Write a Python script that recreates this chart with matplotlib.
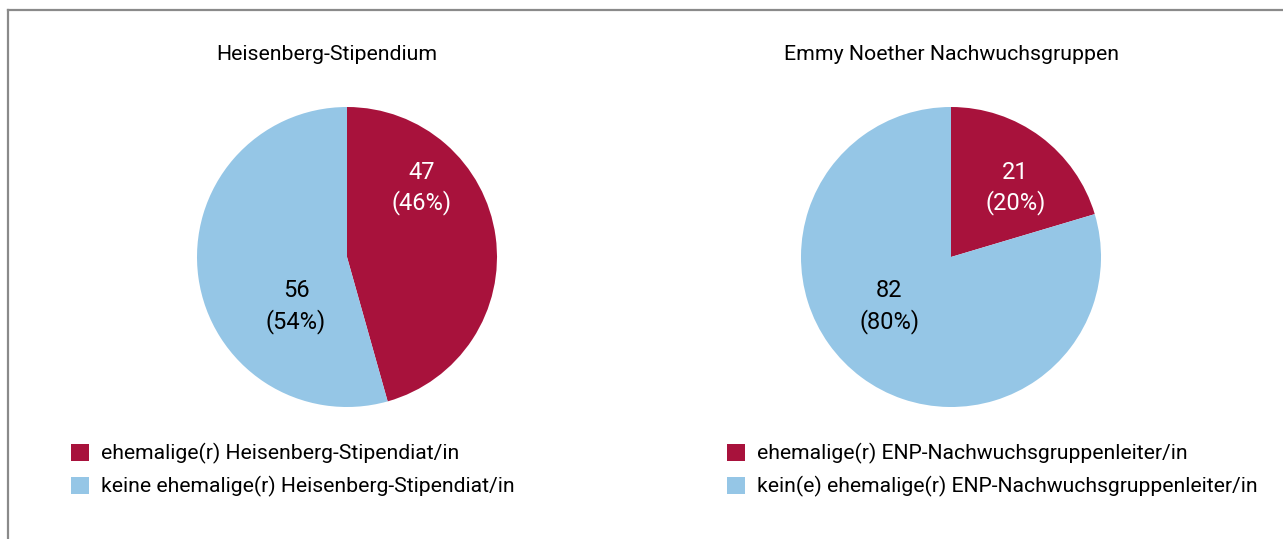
import matplotlib
matplotlib.use("Agg")
import matplotlib.pyplot as plt
from matplotlib.patches import Patch
from matplotlib.lines import Line2D

titles = ["Heisenberg-Stipendium", "Emmy Noether Nachwuchsgruppen"]
values = [[47, 56], [21, 82]]
percents = [[46, 54], [20, 80]]
legend_labels = [
    ["ehemalige(r) Heisenberg-Stipendiat/in", "keine ehemalige(r) Heisenberg-Stipendiat/in"],
    ["ehemalige(r) ENP-Nachwuchsgruppenleiter/in", "kein(e) ehemalige(r) ENP-Nachwuchsgruppenleiter/in"],
]
colors = ["#A8123C", "#95C6E6"]
text_colors = ["white", "black"]

W, H = 1283, 539
plt.rcParams['font.family'] = ['Roboto', 'DejaVu Sans']
fig = plt.figure(figsize=(W / 100, H / 100), dpi=100)

centers = [(347, 257), (951, 257)]
R = 150
title_x = [327, 951]
# label positions in units of radius for each wedge (red, blue)
label_pos = [[(0.50, 0.46), (-0.34, -0.33)], [(0.43, 0.46), (-0.41, -0.33)]]
legend_x = [71, 727]

for i in range(2):
    cx, cy = centers[i]
    ax = fig.add_axes([(cx - R) / W, (H - cy - R) / H, 2 * R / W, 2 * R / H])
    ax.pie(values[i], colors=colors, startangle=90, counterclock=False,
           radius=1, wedgeprops=dict(linewidth=0))
    ax.set_xlim(-1, 1)
    ax.set_ylim(-1, 1)
    ax.set_aspect('equal')
    ax.axis('off')
    for j in range(2):
        x, y = label_pos[i][j]
        ax.text(x, y, f"{values[i][j]}\n({percents[i][j]}%)", ha='center', va='center',
                color=text_colors[j], fontsize=17, linespacing=1.35)
    fig.text(title_x[i] / W, 1 - 55 / H, titles[i], ha='center', va='center', fontsize=15.3)
    handles = [Patch(facecolor=c, edgecolor='none') for c in colors]
    fig.legend(handles, legend_labels[i], loc='upper left',
               bbox_to_anchor=(legend_x[i] / W, 1 - 443 / H),
               frameon=False, fontsize=15.2, handlelength=0.85, handleheight=0.85,
               handletextpad=0.55, labelspacing=0.58, borderaxespad=0, borderpad=0)

# border
fig.add_artist(Line2D([7.5 / W, 7.5 / W], [0, 1 - 10 / H], transform=fig.transFigure,
                      color='#8a8a8a', linewidth=1.6))
fig.add_artist(Line2D([7.5 / W, 1], [1 - 10 / H, 1 - 10 / H], transform=fig.transFigure,
                      color='#8a8a8a', linewidth=1.6))

fig.savefig("out.png", dpi=100)
